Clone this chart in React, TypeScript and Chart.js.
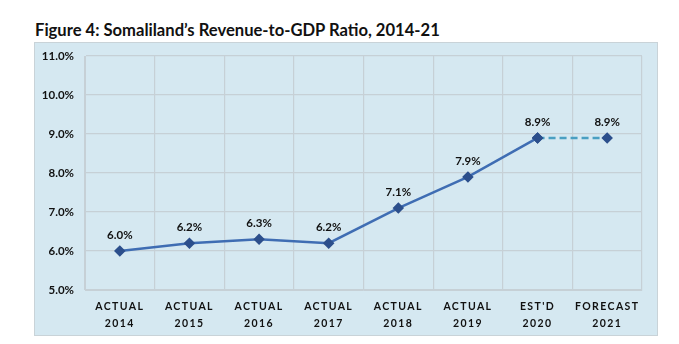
import React, { useEffect, useRef } from "react";
import { Chart, registerables } from "chart.js";

Chart.register(...registerables);

const categories: string[][] = [
  ["ACTUAL", "2014"],
  ["ACTUAL", "2015"],
  ["ACTUAL", "2016"],
  ["ACTUAL", "2017"],
  ["ACTUAL", "2018"],
  ["ACTUAL", "2019"],
  ["EST'D", "2020"],
  ["FORECAST", "2021"],
];
const actualValues: (number | null)[] = [6.0, 6.2, 6.3, 6.2, 7.1, 7.9, 8.9, null];
const forecastValues: (number | null)[] = [null, null, null, null, null, null, 8.9, 8.9];
const yTicks: number[] = [5, 6, 7, 8, 9, 10, 11];

const TITLE = "Figure 4: Somaliland\u2019s Revenue-to-GDP Ratio, 2014-21";

const labelPlugin = {
  id: "valueLabels",
  afterDatasetsDraw(chart: any) {
    const ctx = chart.ctx;
    ctx.save();
    ctx.font = "bold 11.5px Lato, 'Open Sans', sans-serif";
    ctx.fillStyle = "#111";
    ctx.textAlign = "center";
    ctx.textBaseline = "middle";
    chart.data.datasets.forEach((ds: any, di: number) => {
      const meta = chart.getDatasetMeta(di);
      ds.data.forEach((v: number | null, i: number) => {
        if (v == null) return;
        if (di === 1 && i !== forecastValues.length - 1) return;
        const el = meta.data[i];
        ctx.fillText(v.toFixed(1) + "%", el.x, el.y - 16);
      });
    });
    ctx.restore();
  },
};

const spacingPlugin = {
  id: "xLetterSpacing",
  afterLayout(chart: any) {
    const sx = chart.scales.x;
    if (sx && !sx.__wrapped) {
      const orig = sx.drawLabels.bind(sx);
      sx.drawLabels = (area: any) => {
        const ctx = chart.ctx;
        ctx.save();
        (ctx as any).letterSpacing = "1.4px";
        orig(area);
        ctx.restore();
      };
      sx.__wrapped = true;
    }
  },
};

export default function App() {
  const ref = useRef<HTMLCanvasElement | null>(null);
  useEffect(() => {
    if (!ref.current) return;
    const chart = new Chart(ref.current, {
      type: "line",
      data: {
        labels: categories,
        datasets: [
          {
            data: actualValues,
            borderColor: "#3f6db3",
            borderWidth: 2.5,
            pointStyle: "rectRot",
            pointRadius: 4,
            pointBackgroundColor: "#2c4f8c",
            pointBorderColor: "#2c4f8c",
            tension: 0,
          },
          {
            data: forecastValues,
            borderColor: "#4a9fc2",
            borderWidth: 2.5,
            borderDash: [7, 4],
            pointStyle: "rectRot",
            pointRadius: 4,
            pointBackgroundColor: "#2c4f8c",
            pointBorderColor: "#2c4f8c",
            tension: 0,
          },
        ],
      },
      options: {
        animation: false,
        responsive: false,
        maintainAspectRatio: false,
        layout: { padding: { top: 13, right: 15, left: 0, bottom: 0 } },
        plugins: { legend: { display: false }, tooltip: { enabled: false } },
        scales: {
          x: {
            offset: true,
            grid: { offset: true, color: "#c6d0d6", lineWidth: 1.2, drawTicks: false },
            border: { color: "#c6d0d6" },
            ticks: {
              color: "#111",
              font: { family: "Lato, 'Open Sans', sans-serif", weight: "bold", size: 10.5, lineHeight: 1.6 },
              padding: 8,
              maxRotation: 0,
              autoSkip: false,
            },
            afterFit: (s: any) => {
              s.height = 45;
            },
          },
          y: {
            min: 5,
            max: 11,
            afterBuildTicks: (s: any) => {
              s.ticks = yTicks.map((v) => ({ value: v }));
            },
            grid: { color: "#c6d0d6", lineWidth: 1.2, drawTicks: false },
            border: { color: "#c6d0d6" },
            ticks: {
              color: "#111",
              font: { family: "Lato, 'Open Sans', sans-serif", weight: "bold", size: 11.5 },
              padding: 11,
              callback: (v: any) => Number(v).toFixed(1) + "%",
            },
            afterFit: (s: any) => {
              s.width = 50;
              s.paddingTop = 0;
              s.paddingBottom = 0;
            },
          },
        },
      },
      plugins: [labelPlugin, spacingPlugin],
    });
    return () => chart.destroy();
  }, []);

  return (
    <div style={{ position: "absolute", left: 0, top: 0, width: 679, height: 344, background: "#fff" }}>
      <div
        style={{
          position: "absolute",
          left: 35,
          top: 20,
          fontFamily: "Lato, 'Open Sans', sans-serif",
          fontWeight: "bold",
          fontSize: 16.6,
          color: "#111",
          whiteSpace: "nowrap",
        }}
      >
        {TITLE}
      </div>
      <div
        style={{
          position: "absolute",
          left: 34,
          top: 42,
          width: 624,
          height: 294,
          background: "#d5e8f1",
          border: "1px solid #c9d3d8",
          boxSizing: "border-box",
        }}
      >
        <canvas ref={ref} width={622} height={292} style={{ display: "block" }} />
      </div>
    </div>
  );
}
